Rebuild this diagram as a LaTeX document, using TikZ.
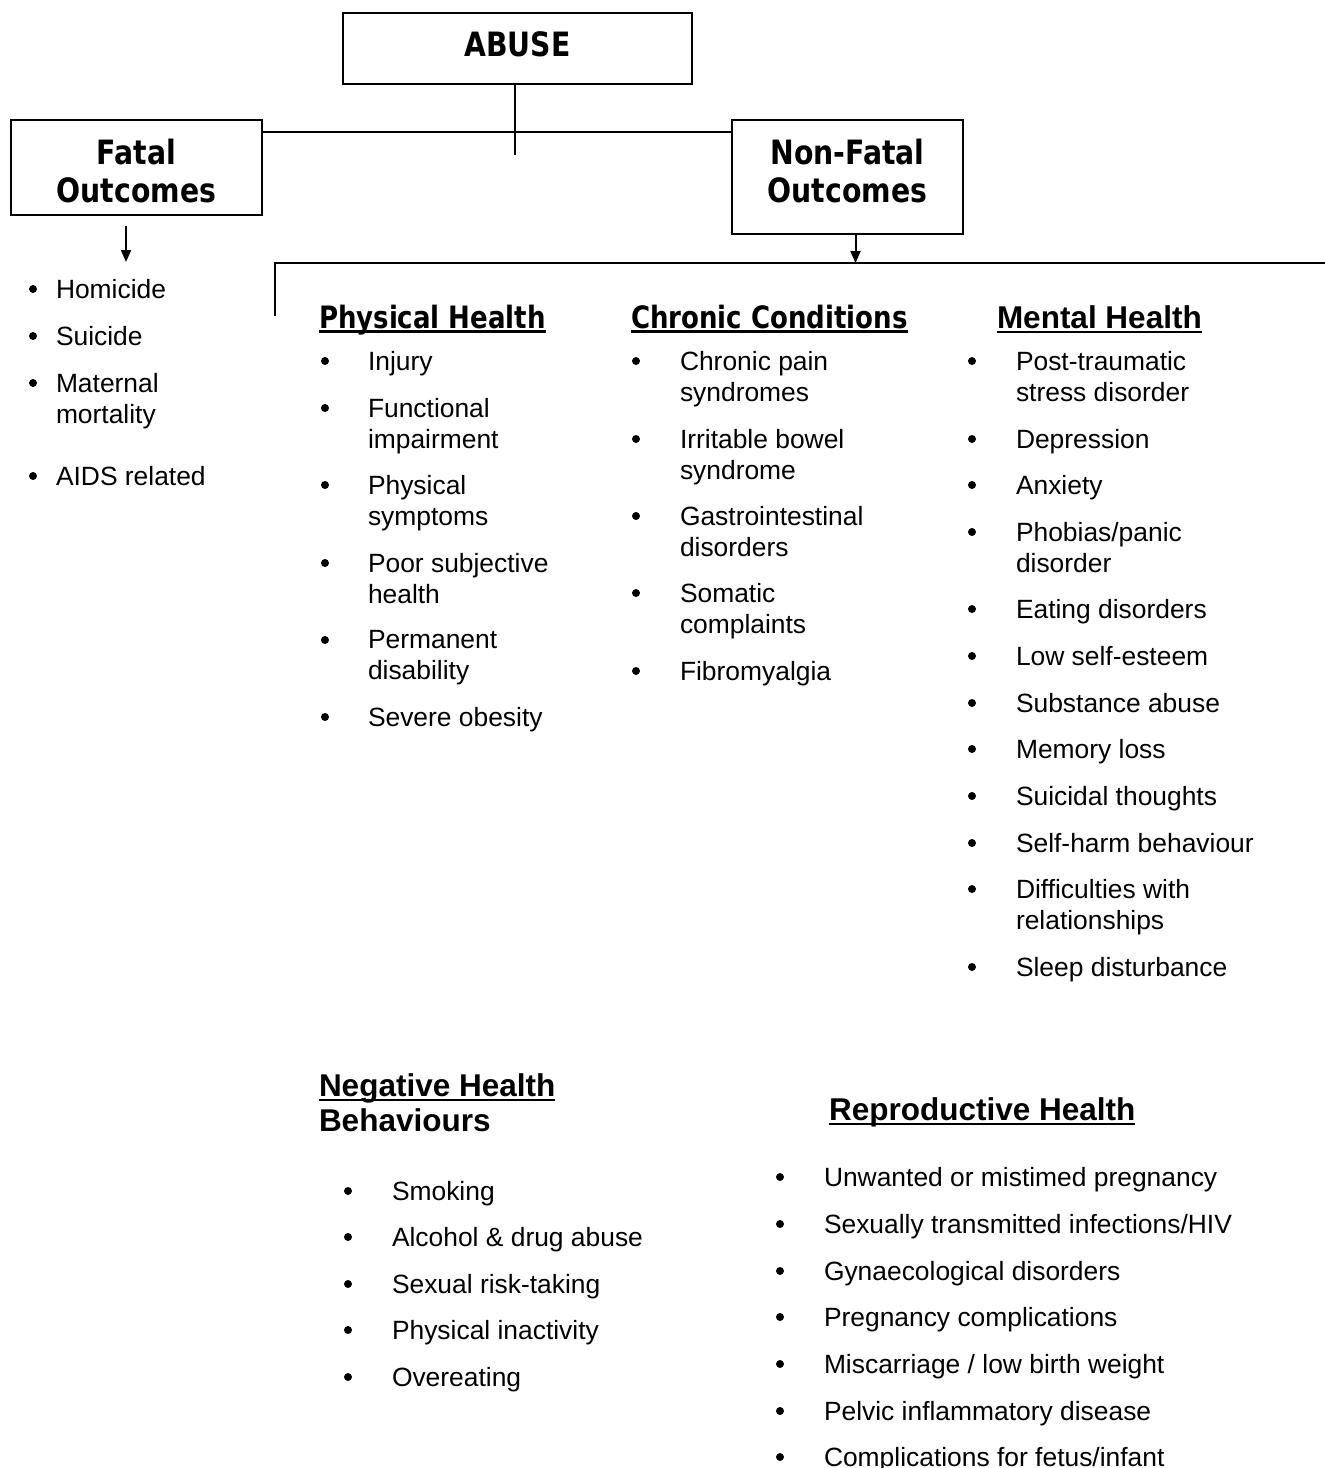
\documentclass[tikz,border=0pt]{standalone}
\usepackage{fontspec}
\setmainfont{Liberation Sans}
\newfontfamily\headfont[FakeStretch=0.845]{DejaVu Sans}
\usetikzlibrary{arrows.meta}

% underlined heading text
\newcommand\ulhead[1]{\setbox0\hbox{#1}\rlap{\vrule height -2pt depth 4.5pt width \wd0}\box0}

\begin{document}
\begin{tikzpicture}[x=1pt, y=-1pt, line width=2pt,
  outbox/.style={draw, inner sep=0pt, anchor=north west},
  boxtext/.style={anchor=north, yshift=-19pt, inner sep=0pt, align=center,
    font=\headfont\bfseries\fontsize{33.5}{38}\selectfont},
  tahead/.style={anchor=north west, yshift=12.4pt, inner sep=0pt, align=left,
    font=\headfont\bfseries\fontsize{30.8}{35}\selectfont},
  arhead/.style={anchor=north west, yshift=11.3pt, inner sep=0pt, align=left,
    font=\bfseries\fontsize{31.5}{35}\selectfont},
  itm/.style={anchor=north west, yshift=9.5pt, inner sep=0pt, align=left,
    font=\fontsize{26.4}{30.5}\selectfont},
  arr/.style={-{Triangle[length=12pt,width=10pt]}}]

  \useasboundingbox (0,0) rectangle (1325,1468);

  % boxes
  \node[outbox, minimum width=349pt, minimum height=71pt,
    label={[boxtext]north:ABUSE}] (abuse) at (342,12) {};
  \node[outbox, minimum width=251pt, minimum height=95pt,
    label={[boxtext]north:Fatal\\Outcomes}] (fatal) at (10,119) {};
  \node[outbox, minimum width=231pt, minimum height=114pt,
    label={[boxtext]north:Non-Fatal\\Outcomes}] (nonfatal) at (731,119) {};

  % connectors
  \coordinate (hub) at (515,132);
  \coordinate (stub) at (515,155);
  \coordinate (fatal arrow) at (126,226);
  \coordinate (fatal list) at (126,262);
  \coordinate (bar) at (275,263);
  \coordinate (bar end) at (1325,263);
  \coordinate (bar tail) at (275,316);

  \draw (abuse.south -| stub) -- (stub);
  \draw (hub -| fatal.east) -- (hub -| nonfatal.west);
  \draw[arr] (fatal arrow) -- (fatal list);
  \draw[arr] ([xshift=8pt]nonfatal.south) -- ([xshift=8pt]nonfatal.south |- bar);
  \draw (bar end) -- (bar) -- (bar tail);

  % headings
  \node[tahead] (physical) at (318,316) {\ulhead{Physical Health}};
  \node[tahead] (chronic) at (630,316) {\ulhead{Chronic Conditions}};
  \node[arhead] (mental) at (996,316) {\ulhead{Mental Health}};
  \node[arhead] (negative) at (318,1084) {\ulhead{Negative Health}\\Behaviours};
  \node[arhead] (reproductive) at (828,1108) {\ulhead{Reproductive Health}};

  % fatal outcomes
  \foreach \y/\txt [count=\i] in {288/Homicide, 335/Suicide,
      382/{Maternal\\mortality}, 475/AIDS related} {
    \fill (33,\y+1) circle (4);
    \node[itm] (fo\i) at (55,\y) {\txt};
  }

  % physical health
  \foreach \y/\txt [count=\i] in {360/Injury, 407/{Functional\\impairment},
      484/{Physical\\symptoms}, 562/{Poor subjective\\health},
      639/{Permanent\\disability}, 716/Severe obesity} {
    \fill (325,\y+1) circle (4);
    \node[itm] (ph\i) at (367,\y) {\txt};
  }

  % chronic conditions
  \foreach \y/\txt [count=\i] in {360/{Chronic pain\\syndromes},
      438/{Irritable bowel\\syndrome}, 515/{Gastrointestinal\\disorders},
      592/{Somatic\\complaints}, 670/Fibromyalgia} {
    \fill (636,\y+1) circle (4);
    \node[itm] (cc\i) at (679,\y) {\txt};
  }

  % mental health
  \foreach \y/\txt [count=\i] in {360/{Post-traumatic\\stress disorder},
      438/Depression, 484/Anxiety, 531/{Phobias/panic\\disorder},
      608/Eating disorders, 655/Low self-esteem, 702/Substance abuse,
      748/Memory loss, 795/Suicidal thoughts, 842/Self-harm behaviour,
      888/{Difficulties with\\relationships}, 966/Sleep disturbance} {
    \fill (972,\y+1) circle (4);
    \node[itm] (mh\i) at (1015,\y) {\txt};
  }

  % negative health behaviours
  \foreach \y/\txt [count=\i] in {1190/Smoking, 1236/{Alcohol \& drug abuse},
      1283/Sexual risk-taking, 1329/Physical inactivity, 1376/Overeating} {
    \fill (348,\y+1) circle (4);
    \node[itm] (nh\i) at (391,\y) {\txt};
  }

  % reproductive health
  \foreach \y/\txt [count=\i] in {1176/{Unwanted or mistimed pregnancy},
      1223/{Sexually transmitted infections/HIV},
      1270/{Gynaecological disorders}, 1316/{Pregnancy complications},
      1363/{Miscarriage / low birth weight},
      1410/{Pelvic inflammatory disease},
      1456/{Complications for fetus/infant}} {
    \fill (780,\y+1) circle (4);
    \node[itm] (rh\i) at (823,\y) {\txt};
  }
\end{tikzpicture}
\end{document}
